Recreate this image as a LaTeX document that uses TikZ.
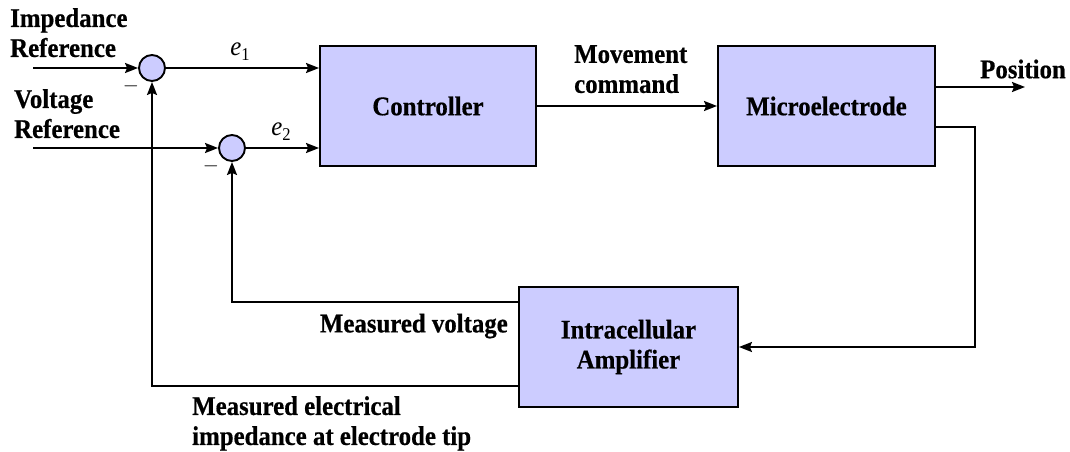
\documentclass[tikz,border=0pt]{standalone}
\usepackage{fontspec}
\setmainfont{Liberation Serif}[FakeStretch=0.92, BoldFeatures={FakeBold=0.5}]
\usetikzlibrary{arrows.meta,calc}
\definecolor{boxfill}{HTML}{CCCCFF}
\newcommand{\errlab}[1]{\textit{e}\raisebox{-5pt}{\fontsize{18}{18}\selectfont #1}}
\begin{document}
\begin{tikzpicture}[x=1pt,y=-1pt,
  txt/.style={font=\fontsize{27}{30}\selectfont\bfseries},
  blk/.style={draw, line width=1.9pt, fill=boxfill, minimum height=120pt, inner sep=0pt, align=center, txt},
  sumnode/.style={circle, draw, line width=1.9pt, fill=boxfill, minimum size=26pt, inner sep=0pt},
  conn/.style={line width=1.9pt, -{Stealth[length=13pt,width=10pt,inset=2pt]}},
  lbl/.style={txt, inner sep=0pt, align=left},
  elab/.style={inner sep=0pt, font=\fontsize{27}{30}\selectfont}]
\useasboundingbox (0,0) rectangle (1070,452);

% blocks
\node[sumnode] (s1) at (152,68) {};
\node[sumnode] (s2) at (232,148) {};
\node[blk, minimum width=216pt] (ctrl) at (428,106) {Controller};
\node[blk, minimum width=217pt] (micro) at (826.5,106) {Microelectrode};
\node[blk, minimum width=219pt] (amp) at (628.5,347) {Intracellular\\Amplifier};

% free ends
\coordinate (inImp) at (33,68);
\coordinate (inVol) at (33,148);
\coordinate (pos) at (1025,87);
\coordinate (fb) at (975,127);
\coordinate (mv) at (519,302);
\coordinate (mi) at (519,386);

% connectors
\draw[conn] (inImp) -- (s1);
\draw[conn] (inVol) -- (s2);
\draw[conn] (s1) -- (ctrl.west |- s1);
\draw[conn] (s2) -- (ctrl.west |- s2);
\draw[conn] (ctrl) -- (micro);
\draw[conn] (micro.east |- pos) -- (pos);
\draw[conn] (micro.east |- fb) -- (fb) |- (amp.east);
\draw[conn] (mv) -| (s2);
\draw[conn] (mi) -| (s1);

% labels
\node[lbl, anchor=north west] (limp) at (10,8) {Impedance\\Reference};
\node[lbl, anchor=north west] (lvol) at (14,89) {Voltage\\Reference};
\node[elab] (le1) at (240,52) {\errlab{1}};
\node[elab] (le2) at (281,132) {\errlab{2}};
\node[inner sep=0pt, font=\fontsize{22}{29}\selectfont] (m1) at (131,86) {$-$};
\node[inner sep=0pt, font=\fontsize{22}{29}\selectfont] (m2) at (211,166) {$-$};
\node[lbl, anchor=north west] (lmov) at (574,45) {Movement\\command};
\node[lbl, anchor=west] (lpos) at (980,69) {Position};
\node[lbl, anchor=east] (lmv) at (508,326) {Measured voltage};
\node[lbl, anchor=north west] (lmi) at (192,396) {Measured electrical\\impedance at electrode tip};
\end{tikzpicture}
\end{document}
